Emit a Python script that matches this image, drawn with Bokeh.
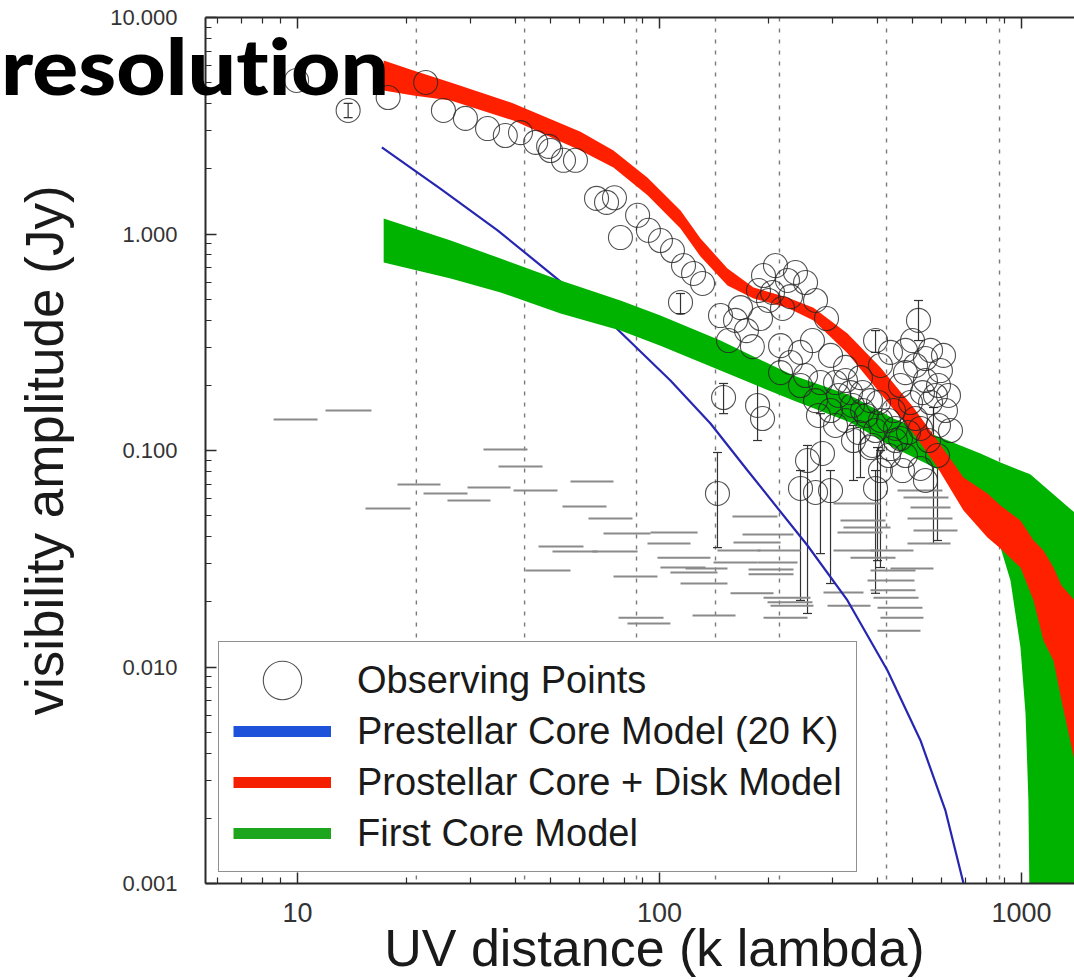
from bokeh.plotting import figure
from bokeh.models import (ColumnDataSource, Range1d, LogAxis, FixedTicker, PrintfTickFormatter,
                          CustomJSTickFormatter, Span, Whisker, TeeHead, Legend, LegendItem, Div)
from bokeh.layouts import column
from bokeh.embed import file_html
from bokeh.resources import INLINE

# ---------------- data ----------------
grid_uv = [21.3, 42.4, 86.4, 142.8, 214.5, 423.8, 869.6]

prestellar_uv = [17.1, 24.8, 35.7, 53.3, 73.2, 107.2, 138.3, 175.1, 256.4, 330.6, 426.4, 526.0, 616.6, 691.7, 746.5]
prestellar_amp = [2.51, 1.62, 1.04, 0.603, 0.390, 0.2105, 0.1332, 0.0808, 0.0364, 0.0203, 0.00963, 0.00458, 0.00217, 0.001, 0.00061]

disk_uv = [17.3, 20.9, 26.5, 39.5, 60.5, 74.6, 92.7, 114.3, 129.8, 154.1, 181.9, 225.7, 266.3, 330.6,
           407.8, 503.1, 586.1, 691.7, 805.6, 875.0, 993.6, 1080, 1150, 1226, 1290, 1401]
disk_hi = [6.33, 5.69, 5.01, 4.01, 2.97, 2.43, 1.82, 1.284, 0.953, 0.693, 0.566, 0.509, 0.457, 0.347,
           0.2416, 0.158, 0.1112, 0.0750, 0.0633, 0.0557, 0.0475, 0.0384, 0.0345, 0.0288, 0.0238, 0.0203]
disk_lo = [4.60, 4.36, 4.14, 3.34, 2.43, 2.03, 1.51, 1.06, 0.787, 0.578, 0.504, 0.457, 0.399, 0.281,
           0.1834, 0.1199, 0.0834, 0.0528, 0.0396, 0.0353, 0.0288, 0.0203, 0.01326, 0.0107, 0.0070, 0.0037]

first_uv = [17.3, 26.5, 36.4, 53.3, 78.0, 100.6, 147.4, 234.5, 337.0, 443.0, 597.2, 770.2, 875.0,
            932.3, 993.6, 1026, 1045, 1059, 1401]
first_hi = [1.179, 0.933, 0.770, 0.610, 0.493, 0.420, 0.322, 0.222, 0.1795, 0.1405, 0.1148, 0.0969, 0.0880,
            0.0844, 0.0808, 0.0791, 0.0783, 0.0775, 0.0517]
first_lo = [0.739, 0.623, 0.537, 0.429, 0.358, 0.305, 0.234, 0.170, 0.1347, 0.1032, 0.0808, 0.0528, 0.0356,
            0.0251, 0.0123, 0.0061, 0.00242, 0.0003, 0.0003]

obs_uv = [9.94, 13.8, 17.8, 22.6, 25.3, 29.1, 33.5, 37.5, 41.3, 45.5, 50.0, 54.3, 58.6, 49.4,
          67.0, 71.4, 75.1, 78.0, 87.0, 93.2, 100.6, 108.6, 116.5, 124.2, 114.3, 131.5,
          193.8, 209.1, 225.7, 205.2, 230.1, 187.7, 253.2, 269.8, 289.3, 237.5,
          147.4, 162.2, 173.9, 155.1, 180.6, 167.4, 190.1,
          216.0, 245.2, 264.6, 230.1, 296.8, 326.5, 359.1, 306.4, 337.0, 395.2, 434.6,
          407.8, 245.2, 269.8, 296.8, 326.5, 363.8, 395.2, 429.1, 448.7, 382.7, 216.0,
          519.4, 478.1, 509.6, 542.9, 578.5, 493.6, 597.2, 532.7, 560.7, 616.6, 509.6,
          463.2, 589.8, 553.5, 608.9,
          150.3, 186.6, 192.6, 144.6, 256.4, 282.0, 245.2, 269.8, 296.8, 343.5, 382.7,
          407.8, 395.2, 478.1, 526.0, 469.2, 434.6, 586.1, 542.9,
          253.2, 278.4, 312.3, 341.3, 373.1, 407.8, 448.7, 487.3, 274.9, 306.4, 354.6,
          387.6, 429.1, 463.2, 326.5, 363.8, 402.7, 443.0, 526.0, 500.0, 542.9, 589.8,
          628.5, 478.1, 560.7, 636.6, 200.1, 218.7]
obs_amp = [5.12, 3.72, 4.27, 5.01, 3.72, 3.42, 3.07, 2.85, 2.94, 2.65, 2.43, 2.19, 2.19, 2.54,
           1.46, 1.40, 1.47, 0.963, 1.22, 1.04, 0.933, 0.839, 0.715, 0.657, 0.483, 0.591,
           0.643, 0.715, 0.610, 0.537, 0.514, 0.548, 0.597, 0.493, 0.407, 0.664,
           0.420, 0.399, 0.358, 0.322, 0.302, 0.457, 0.407,
           0.305, 0.284, 0.322, 0.255, 0.275, 0.242, 0.217, 0.206, 0.185, 0.322, 0.284,
           0.247, 0.1996, 0.170, 0.153, 0.1376, 0.153, 0.1237, 0.1376, 0.1112, 0.170, 0.229,
           0.399, 0.290, 0.247, 0.2105, 0.1795, 0.1666, 0.234, 0.185, 0.290, 0.153, 0.1405,
           0.1996, 0.1305, 0.1112, 0.275,
           0.1757, 0.1614, 0.1405, 0.0633, 0.0899, 0.0969, 0.0668, 0.064, 0.0653, 0.1112, 0.1032,
           0.0808, 0.0668, 0.0948, 0.0826, 0.0808, 0.1021, 0.0948, 0.0727,
           0.222, 0.206, 0.1795, 0.1614, 0.1451, 0.1376, 0.1264, 0.1211, 0.1451, 0.1305, 0.1211,
           0.1055, 0.0948, 0.1136, 0.2105, 0.1853, 0.1666, 0.153, 0.1264, 0.322, 0.266, 0.1996,
           0.1795, 0.229, 0.1666, 0.1237, 0.493, 0.453]

err_uv = [13.8, 114.3, 395.2, 519.4, 150.3, 186.6, 144.6, 256.4, 245.2, 296.8, 343.5, 407.8,
          395.2, 586.1, 278.4, 359.1, 400.2, 571.3]
err_lo = [3.45, 0.429, 0.284, 0.322, 0.148, 0.1112, 0.0356, 0.01767, 0.0203, 0.0243, 0.0727, 0.0288,
          0.0219, 0.0384, 0.0334, 0.075, 0.031, 0.0372]
err_hi = [4.01, 0.531, 0.358, 0.493, 0.204, 0.206, 0.0979, 0.1055, 0.0808, 0.0808, 0.1305, 0.1,
          0.0808, 0.1112, 0.148, 0.1277, 0.1032, 0.158]

bar_uv0 = [8.59, 11.95, 18.89, 15.41, 22.29, 25.96, 29.49, 32.64, 35.92, 39.52, 56.77, 53.95, 63.66,
           46.33, 50.62, 42.64, 70.04, 94.44, 92.66, 65.29, 74.64, 98.74, 100.6, 118.0, 107.2, 114.3,
           123.4, 77.04, 81.56, 157.1, 159.1, 169.6, 160.1, 144.6, 186.6, 141.0, 186.6, 176.2, 176.2,
           193.8, 198.8, 202.6, 193.8, 283.8, 291.2, 302.5, 316.2, 322.3, 310.2, 302.5, 382.7, 337.0,
           382.7, 375.5, 382.7, 390.1, 400.2, 407.8, 400.2, 454.5, 472.1, 493.6, 484.3, 503.1, 484.3, 434.6]
bar_uv1 = [11.36, 16.01, 24.83, 20.52, 29.49, 34.13, 38.76, 43.19, 47.53, 52.27, 74.64, 71.39, 84.22,
           61.67, 67.41, 56.77, 94.44, 127.4, 121.8, 86.97, 98.74, 138.3, 134.0, 154.1, 144.6, 154.1,
           162.2, 102.6, 107.2, 206.5, 211.8, 234.5, 216.0, 190.1, 245.2, 186.6, 240.6, 234.5, 234.5,
           261.3, 264.6, 266.3, 256.4, 366.1, 382.7, 407.8, 421.0, 434.6, 413.0, 402.7, 503.1, 448.7,
           509.6, 506.3, 509.6, 519.4, 532.7, 536.1, 526.0, 604.9, 628.5, 636.6, 644.8, 665.6, 636.6, 571.3]
bar_amp = [0.139, 0.153, 0.0697, 0.0540, 0.0633, 0.0587, 0.0675, 0.1011, 0.0844, 0.0653, 0.0719, 0.0551,
           0.0485, 0.0360, 0.0342, 0.0279, 0.0414, 0.0418, 0.0372, 0.0342, 0.0262, 0.0320, 0.0288, 0.0285,
           0.0273, 0.0243, 0.0173, 0.0169, 0.0159, 0.0219, 0.0496, 0.0409, 0.0376, 0.0345, 0.0345, 0.0304,
           0.0304, 0.0282, 0.0268, 0.0209, 0.0199, 0.0192, 0.0169, 0.0221, 0.0192, 0.0569, 0.0475, 0.0441,
           0.0418, 0.0345, 0.0345, 0.0320, 0.0279, 0.0251, 0.0226, 0.0209, 0.0188, 0.0169, 0.0147, 0.0653,
           0.0607, 0.0545, 0.0485, 0.0427, 0.0372, 0.0285]

x_major = [10, 100, 1000]
x_minor = [6, 7, 8, 9, 20, 30, 40, 50, 60, 70, 80, 90, 200, 300, 400, 500, 600, 700, 800, 900]
y_major = [0.001, 0.01, 0.1, 1, 10]
y_minor = [0.002, 0.003, 0.004, 0.005, 0.006, 0.007, 0.008, 0.009,
           0.02, 0.03, 0.04, 0.05, 0.06, 0.07, 0.08, 0.09,
           0.2, 0.3, 0.4, 0.5, 0.6, 0.7, 0.8, 0.9,
           2, 3, 4, 5, 6, 7, 8, 9]

# ---------------- figure ----------------
FONT = "Liberation Sans"
AX = "#2b2b2b"

p = figure(x_axis_type="log", y_axis_type="log",
           x_range=Range1d(5.57, 1401), y_range=Range1d(0.001, 10),
           frame_width=869, frame_height=866,
           min_border_left=205, min_border_right=0, min_border_top=17, min_border_bottom=95,
           output_backend="svg", toolbar_location=None,
           background_fill_color="white", border_fill_color="white",
           outline_line_color=None)
p.xgrid.visible = False
p.ygrid.visible = False

xa = p.xaxis[0]
xa.ticker = FixedTicker(ticks=x_major, minor_ticks=x_minor)
xa.formatter = PrintfTickFormatter(format="%d")
# leading no-break spaces nudge the centred label slightly right, as in the original
xa.axis_label = "\u00a0\u00a0\u00a0UV distance  (k lambda)"
xa.axis_label_text_font = FONT
xa.axis_label_text_font_style = "normal"
xa.axis_label_text_font_size = "52px"
xa.axis_label_text_color = "#1a1a1a"
xa.axis_label_standoff = -6
xa.major_label_text_font = FONT
xa.major_label_text_font_size = "27px"
xa.major_label_text_color = "#333333"
xa.major_label_standoff = 19

ya = p.yaxis[0]
ya.ticker = FixedTicker(ticks=y_major, minor_ticks=y_minor)
ya.formatter = PrintfTickFormatter(format="%.3f")
ya.axis_label = "visibility amplitude (Jy)"
ya.axis_label_text_font = FONT
ya.axis_label_text_font_style = "normal"
ya.axis_label_text_font_size = "53px"
ya.axis_label_text_color = "#1a1a1a"
ya.axis_label_standoff = 33
ya.major_label_text_font = FONT
ya.major_label_text_font_size = "22px"
ya.major_label_text_color = "#333333"
ya.major_label_standoff = 28

top = LogAxis(ticker=FixedTicker(ticks=x_major, minor_ticks=x_minor),
              formatter=CustomJSTickFormatter(code="return ''"))
top.major_label_standoff = 0
p.add_layout(top, "above")

for ax in (xa, ya, top):
    ax.axis_line_color = AX
    ax.axis_line_width = 2
    ax.major_tick_line_color = AX
    ax.minor_tick_line_color = AX
    ax.major_tick_line_width = 1.5
    ax.minor_tick_line_width = 1.2
    ax.major_tick_in = 11
    ax.major_tick_out = 0
    ax.minor_tick_in = 6
    ax.minor_tick_out = 0

for g in grid_uv:
    p.add_layout(Span(location=g, dimension="height", line_color="#7a7a7a",
                      line_width=1.4, line_dash="4 7", level="underlay"))

p.segment(x0=bar_uv0, y0=bar_amp, x1=bar_uv1, y1=bar_amp, line_color="#8a8a8a", line_width=2)

p.line(prestellar_uv, prestellar_amp, line_color="#2626b0", line_width=2.2)
p.varea(x=first_uv, y1=first_lo, y2=first_hi, fill_color="#00b300")
p.varea(x=disk_uv, y1=disk_lo, y2=disk_hi, fill_color="#ff2000")

p.add_layout(Whisker(source=ColumnDataSource(dict(base=err_uv, lower=err_lo, upper=err_hi)),
                     base="base", lower="lower", upper="upper", dimension="height",
                     line_color="#333333", line_width=1.2,
                     upper_head=TeeHead(size=9, line_color="#333333", line_width=1.2),
                     lower_head=TeeHead(size=9, line_color="#333333", line_width=1.2)))
obs_r = p.ellipse(x=obs_uv, y=obs_amp, width=24, height=24, width_units="screen",
                  height_units="screen", fill_color=None, line_color="#262626",
                  line_width=1.1, line_alpha=0.8)

# legend-only swatches (hidden from the plot area)
lb = p.line(prestellar_uv, prestellar_amp, line_color="#1f52db", line_width=11, visible=False)
lr = p.line(disk_uv, disk_hi, line_color="#f52000", line_width=11, visible=False)
lg = p.line(first_uv, first_hi, line_color="#1ea51e", line_width=11, visible=False)

legend = Legend(items=[LegendItem(label="Observing Points", renderers=[obs_r]),
                       LegendItem(label="Prestellar Core Model (20 K)", renderers=[lb]),
                       LegendItem(label="Prostellar Core + Disk Model", renderers=[lr]),
                       LegendItem(label="First Core Model", renderers=[lg])],
                location=(13, 11), glyph_width=98, glyph_height=48, spacing=3,
                padding=14, label_standoff=26, label_text_font=FONT,
                label_text_font_size="38px", label_text_color="#1a1a1a",
                border_line_color="#222222", border_line_width=1.5,
                background_fill_color="white", background_fill_alpha=1.0,
                inactive_fill_alpha=0.0)
p.add_layout(legend)

# big slide heading overlapping the plot's top-left corner
heading = Div(text="resolution", styles={
    "position": "absolute", "left": "-4px", "top": "21px", "z-index": "10",
    "font-family": "Lato, sans-serif", "font-weight": "900", "font-size": "78px",
    "line-height": "1", "color": "black", "white-space": "nowrap",
    "font-variant-ligatures": "none", "font-feature-settings": "'liga' 0",
    "transform": "scaleX(1.1)", "transform-origin": "0 0"})

layout = column(p, heading)
open("out.html", "w").write(file_html(layout, INLINE))
